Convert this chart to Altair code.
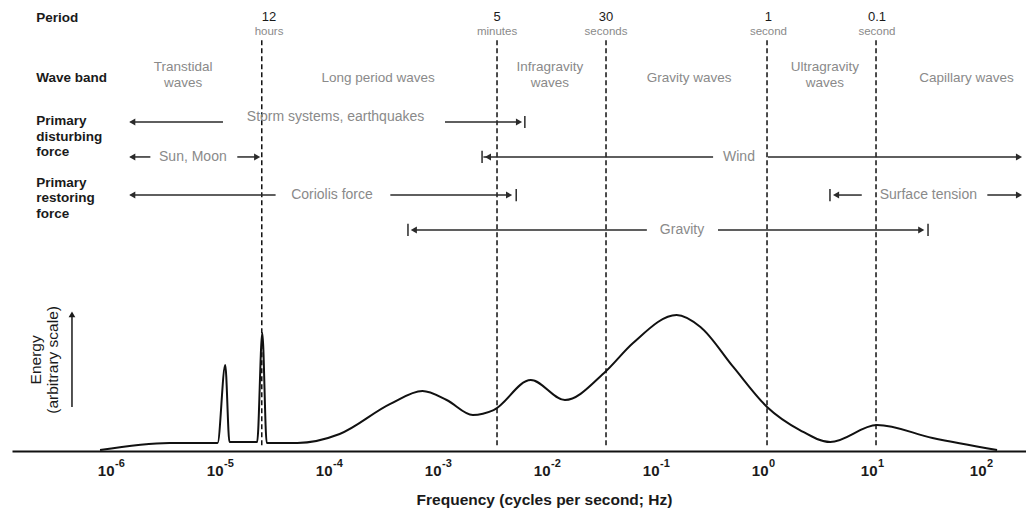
import altair as alt
import pandas as pd

# ---------------- data ----------------
# energy spectrum (frequency in Hz, energy in arbitrary units)
freq_hz = [7.6e-7, 3.3e-6, 9.1e-6, 1.07e-5, 1.17e-5, 2.1e-5, 2.34e-5, 2.57e-5,
           4.9e-5, 1.2e-4, 3.5e-4, 6.9e-4, 1.15e-3, 2.0e-3, 3.1e-3, 6.8e-3,
           1.4e-2, 3.2e-2, 5.9e-2, 0.148, 0.245, 0.49, 1.0, 2.0, 3.8, 10.2, 33.0, 129.0]
energy = [0.7, 5.9, 5.9, 63.2, 6.6, 6.6, 86.8, 5.9,
          5.9, 12.5, 34.6, 44.1, 37.5, 26.5, 30.1, 52.2,
          37.5, 57.4, 79.4, 100.0, 91.2, 61.8, 32.4, 15.4, 6.6, 19.1, 9.6, 0.7]

# period boundaries
period_freq = [2.315e-5, 3.333e-3, 3.333e-2, 1.0, 10.0]
period_label_freq = [2.7e-5, 3.333e-3, 3.333e-2, 1.03, 10.2]
period_num = ["12", "5", "30", "1", "0.1"]
period_unit = ["hours", "minutes", "seconds", "second", "second"]

# wave bands (one entry per text line)
band_text = ["Transtidal", "waves", "Long period waves", "Infragravity", "waves",
             "Gravity waves", "Ultragravity", "waves", "Capillary waves"]
band_freq = [4.4e-6, 4.4e-6, 2.7e-4, 1.02e-2, 1.02e-2, 0.193, 3.4, 3.4, 67.6]
band_level = [282.0, 270.6, 274.3, 282.0, 270.6, 274.3, 282.0, 270.6, 274.3]

# row labels on the left (one entry per text line)
row_label_text = ["Period", "Wave band", "Primary", "disturbing", "force",
                  "Primary", "restoring", "force"]
row_label_level = [318.4, 274.3, 242.6, 230.9, 219.9, 197.1, 186.0, 174.6]

# forces (labels and extents)
force_text = ["Storm systems, earthquakes", "Sun, Moon", "Wind", "Coriolis force",
              "Surface tension", "Gravity"]
force_freq = [1.1e-4, 5.4e-6, 0.553, 1.02e-4, 30.2, 0.166]
force_level = [245.5, 216.2, 216.2, 188.2, 188.2, 162.5]

seg_start = [1.45e-6, 1.11e-3, 1.45e-6, 1.38e-5, 2.5e-3, 1.02, 1.45e-6, 3.5e-4,
             4.3, 105.0, 5.75e-4, 0.355]
seg_end = [1.02e-5, 5.4e-3, 2.2e-6, 2.14e-5, 0.32, 209.0, 3.1e-5, 4.4e-3,
           7.4, 209.0, 0.079, 26.3]
seg_level = [241.9, 241.9, 216.2, 216.2, 216.2, 216.2, 188.2, 188.2,
             188.2, 188.2, 162.5, 162.5]

head_left_freq = [1.5e-6, 1.5e-6, 2.75e-3, 1.5e-6, 4.3, 5.75e-4]
head_left_level = [241.9, 216.2, 216.2, 188.2, 188.2, 162.5]
head_right_freq = [5.3e-3, 2.1e-5, 205.0, 4.3e-3, 205.0, 26.0]
head_right_level = [241.9, 216.2, 216.2, 188.2, 188.2, 162.5]

bar_freq = [6.0e-3, 2.43e-3, 5.0e-3, 3.78, 5.08e-4, 30.0]
bar_level = [241.9, 216.2, 188.2, 188.2, 162.5, 162.5]

energy_label_text = ["Energy", "(arbitrary scale)"]
energy_label_freq = [1.97e-7, 2.8e-7]

tick_values = [1e-6, 1e-5, 1e-4, 1e-3, 1e-2, 1e-1, 1.0, 10.0, 100.0]
tick_exponent = ["-6", "-5", "-4", "-3", "-2", "-1", "0", "1", "2"]

# ---------------- scales ----------------
FONT = "Liberation Sans"
GRAY = "#8a8a8a"
INK = "#1a1a1a"

xs = alt.Scale(type="log", domain=[10 ** -6.927, 10 ** 2.376], nice=False)
ys = alt.Scale(domain=[0, 331.6], nice=False, zero=False)

x_axis = alt.Axis(
    values=tick_values,
    labelExpr="'10'",
    ticks=False, grid=False, domainColor="#111", domainWidth=2,
    labelFont=FONT, labelFontSize=15, labelFontWeight="bold", labelColor=INK,
    labelPadding=12, labelAlign="right", labelOffset=1,
    labelFlush=False, labelOverlap=False,
    title="Frequency (cycles per second; Hz)", titleFont=FONT, titleFontSize=15.5,
    titleFontWeight="bold", titleColor=INK, titleX=532, titleY=48,
    titleBaseline="middle", titleAlign="center",
)


def X(field):
    return alt.X(field, scale=xs, axis=x_axis)


def Y(field):
    return alt.Y(field, scale=ys, axis=None)


spec = pd.DataFrame({"f": freq_hz, "e": energy})
curve = alt.Chart(spec).mark_line(interpolate="monotone", color="#111", strokeWidth=2).encode(
    x=X("f:Q"), y=Y("e:Q"))

# tick exponents (superscripts)
td = pd.DataFrame({"f": tick_values, "t": tick_exponent, "lv": [-9.6] * len(tick_values)})
expo = alt.Chart(td).mark_text(font=FONT, fontSize=11, fontWeight="bold", color=INK,
                               align="left", baseline="middle", dx=2).encode(
    x=X("f:Q"), y=Y("lv:Q"), text="t:N")

# dashed period lines
pl = pd.DataFrame({"f": period_freq, "top": [302.0] * 5, "bot": [3.0] * 5})
dashes = alt.Chart(pl).mark_rule(color="#111", strokeWidth=1.5, strokeDash=[5, 3]).encode(
    x=X("f:Q"), y=Y("top:Q"), y2="bot:Q")
plab = pd.DataFrame({"f": period_label_freq, "num": period_num, "unit": period_unit,
                     "ln": [319.3] * 5, "lu": [308.3] * 5})
pnum = alt.Chart(plab).mark_text(font=FONT, fontSize=13, color=INK, baseline="middle").encode(
    x=X("f:Q"), y=Y("ln:Q"), text="num:N")
punit = alt.Chart(plab).mark_text(font=FONT, fontSize=11.5, color=GRAY, baseline="middle").encode(
    x=X("f:Q"), y=Y("lu:Q"), text="unit:N")

# wave bands
bd = pd.DataFrame({"f": band_freq, "t": band_text, "lv": band_level})
bands = alt.Chart(bd).mark_text(font=FONT, fontSize=13.5, color=GRAY, baseline="middle").encode(
    x=X("f:Q"), y=Y("lv:Q"), text="t:N")

# left row labels
rl = pd.DataFrame({"t": row_label_text, "lv": row_label_level,
                   "f": [1.97e-7] * len(row_label_text)})
rows = alt.Chart(rl).mark_text(font=FONT, fontSize=13.5, fontWeight="bold", color=INK,
                               align="left", baseline="middle").encode(
    x=X("f:Q"), y=Y("lv:Q"), text="t:N")

# forces
fd = pd.DataFrame({"t": force_text, "f": force_freq, "lv": force_level})
forces = alt.Chart(fd).mark_text(font=FONT, fontSize=14, color=GRAY, baseline="middle").encode(
    x=X("f:Q"), y=Y("lv:Q"), text="t:N")

sd = pd.DataFrame({"a": seg_start, "b": seg_end, "lv": seg_level})
segs = alt.Chart(sd).mark_rule(color="#2a2a2a", strokeWidth=1.5).encode(
    x=X("a:Q"), x2="b:Q", y=Y("lv:Q"))

hl = pd.DataFrame({"f": head_left_freq, "lv": head_left_level})
heads_l = alt.Chart(hl).mark_point(shape="triangle-left", filled=True, color="#2a2a2a",
                                   size=50, opacity=1).encode(x=X("f:Q"), y=Y("lv:Q"))
hr = pd.DataFrame({"f": head_right_freq, "lv": head_right_level})
heads_r = alt.Chart(hr).mark_point(shape="triangle-right", filled=True, color="#2a2a2a",
                                   size=50, opacity=1).encode(x=X("f:Q"), y=Y("lv:Q"))

bb = pd.DataFrame({"f": bar_freq, "lo": [v - 4.5 for v in bar_level],
                   "hi": [v + 4.5 for v in bar_level]})
bars = alt.Chart(bb).mark_rule(color="#2a2a2a", strokeWidth=1.5).encode(
    x=X("f:Q"), y=Y("lo:Q"), y2="hi:Q")

# energy axis label with upward arrow
el = pd.DataFrame({"f": energy_label_freq, "lv": [67.0, 67.0], "t": energy_label_text})
elabel = alt.Chart(el).mark_text(font=FONT, fontSize=15.5, color=INK, angle=270,
                                 baseline="middle").encode(
    x=X("f:Q"), y=Y("lv:Q"), text="t:N")
ea = pd.DataFrame({"f": [4.2e-7], "lo": [32.4], "hi": [99.0]})
earrow = alt.Chart(ea).mark_rule(color=INK, strokeWidth=1.5).encode(
    x=X("f:Q"), y=Y("lo:Q"), y2="hi:Q")
eh = pd.DataFrame({"f": [4.2e-7], "lv": [100.5]})
ehead = alt.Chart(eh).mark_point(shape="triangle-up", filled=True, color=INK,
                                 size=45, opacity=1).encode(x=X("f:Q"), y=Y("lv:Q"))

chart = alt.layer(
    curve, dashes, expo, pnum, punit, bands, rows, segs, heads_l, heads_r, bars, forces,
    elabel, earrow, ehead,
).properties(
    width=1014, height=451,
    padding={"left": 12, "top": 0, "right": 0, "bottom": 61},
    autosize=alt.AutoSizeParams(type="none"),
).configure_view(strokeWidth=0)

chart.save("out.html", embed_options={"renderer": "svg", "actions": False})
